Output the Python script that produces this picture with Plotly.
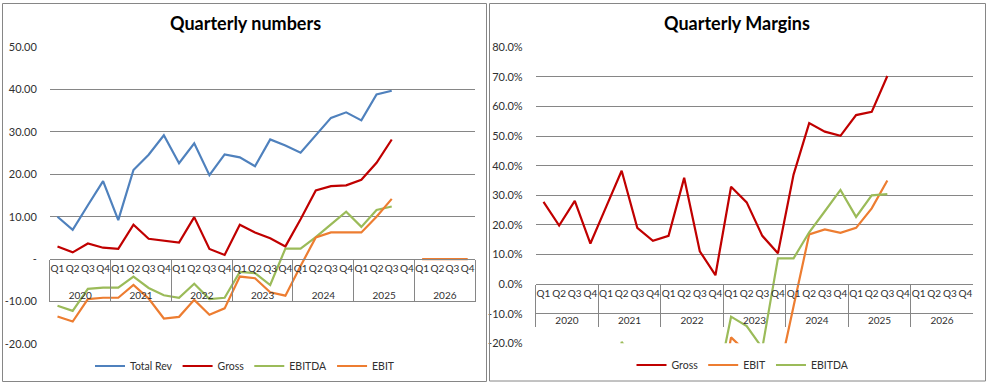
import plotly.graph_objects as go

# ---------------- data ----------------
years = [str(y) for y in range(2020, 2027) for _ in range(4)]
quarters = ["Q1", "Q2", "Q3", "Q4"] * 7

total_rev = [10.0, 6.9, 12.7, 18.4, 9.2, 21.0, 24.6, 29.2,
             22.6, 27.3, 19.8, 24.7, 24.0, 21.9, 28.2, 26.8,
             25.1, 29.1, 33.3, 34.6, 32.7, 38.8, 39.7, None,
             None, None, None, None]
gross = [3.0, 1.6, 3.7, 2.7, 2.4, 8.1, 4.8, 4.3,
         3.9, 9.9, 2.4, 1.0, 8.1, 6.3, 4.9, 3.0,
         9.4, 16.2, 17.2, 17.4, 18.7, 22.7, 28.2, None,
         None, None, None, None]
ebitda = [-11.0, -12.2, -7.0, -6.7, -6.7, -4.1, -6.8, -8.5,
          -9.1, -5.8, -9.4, -9.1, -3.0, -3.3, -6.1, 2.5,
          2.5, 5.2, 8.2, 11.2, 7.6, 11.6, 12.4, None,
          None, None, None, None]
ebit = [-13.5, -14.7, -9.4, -9.1, -9.1, -6.1, -9.3, -14.0,
        -13.6, -9.6, -13.1, -11.6, -4.1, -4.5, -7.8, -8.6,
        -1.6, 5.1, 6.3, 6.3, 6.3, 10.0, 14.2, None,
        0.0, 0.0, 0.0, 0.0]

# margins in percent
gross_m = [27.8, 19.8, 28.1, 13.7, 26.0, 38.3, 19.0, 14.6,
           16.3, 35.9, 11.1, 3.0, 32.9, 27.6, 16.3, 10.4,
           37.0, 54.4, 51.5, 50.1, 57.1, 58.2, 70.3, None,
           None, None, None, None]
ebit_m = [-135, -213, -74, -49, -99, -29, -38, -48,
          -60, -35, -66, -47, -18.0, -23.0, -27.7, -32.0,
          -7.5, 16.8, 18.5, 17.3, 19.0, 25.6, 35.0, None,
          None, None, None, None]
ebitda_m = [-110, -177, -56, -36, -73, -19.5, -27.6, -29,
            -40, -21.2, -47, -37, -11.0, -14.2, -21.6, 8.7,
            8.7, 17.5, 24.6, 31.8, 22.7, 30.0, 30.4, None,
            None, None, None, None]

left_ticks = [-20, -10, 0, 10, 20, 30, 40, 50]
left_ticktext = ["-20.00", "-10.00", "-", "10.00", "20.00", "30.00", "40.00", "50.00"]
right_ticks = [-20, -10, 0, 10, 20, 30, 40, 50, 60, 70, 80]
right_ticktext = ["-20.0%", "-10.0%", "0.0%", "10.0%", "20.0%", "30.0%",
                  "40.0%", "50.0%", "60.0%", "70.0%", "80.0%"]

# ---------------- style ----------------
W, H = 987, 383
BLUE = "#4F81BD"
RED = "#C00000"
GREEN = "#9BBB59"
ORANGE = "#ED7D31"
GRID = "#868686"
TXT = "#303030"
FONT = "Lato"

def px_x(a, b):
    return [a / W, b / W]

def px_y(top, bottom):
    return [1 - bottom / H, 1 - top / H]

L_DOM_X = px_x(49.9, 475.3)
L_DOM_Y = px_y(47.0, 344.0)
R_DOM_X = px_x(535.7, 973.3)
R_DOM_Y = px_y(47.3, 343.3)
L_RANGE = [-20, 50]
R_RANGE = [-20, 80]

def zero_pos(dom, rng):
    return dom[0] + (0 - rng[0]) / (rng[1] - rng[0]) * (dom[1] - dom[0])

# year row sits one line lower, like the Excel two-level axis table
year_labels = ["<br>" + y for y in years]
xcat = [year_labels, quarters]
fig = go.Figure()

lw = 2.2
fig.add_trace(go.Scatter(x=xcat, y=total_rev, name="Total Rev", mode="lines",
                         line=dict(color=BLUE, width=lw), xaxis="x", yaxis="y", legend="legend"))
fig.add_trace(go.Scatter(x=xcat, y=gross, name="Gross", mode="lines",
                         line=dict(color=RED, width=lw), xaxis="x", yaxis="y", legend="legend"))
fig.add_trace(go.Scatter(x=xcat, y=ebitda, name="EBITDA", mode="lines",
                         line=dict(color=GREEN, width=lw), xaxis="x", yaxis="y", legend="legend"))
fig.add_trace(go.Scatter(x=xcat, y=ebit, name="EBIT", mode="lines",
                         line=dict(color=ORANGE, width=lw), xaxis="x", yaxis="y", legend="legend"))

fig.add_trace(go.Scatter(x=xcat, y=gross_m, name="Gross", mode="lines",
                         line=dict(color=RED, width=lw), xaxis="x2", yaxis="y2", legend="legend2"))
fig.add_trace(go.Scatter(x=xcat, y=ebit_m, name="EBIT", mode="lines",
                         line=dict(color=ORANGE, width=lw), xaxis="x2", yaxis="y2", legend="legend2"))
fig.add_trace(go.Scatter(x=xcat, y=ebitda_m, name="EBITDA", mode="lines",
                         line=dict(color=GREEN, width=lw), xaxis="x2", yaxis="y2", legend="legend2"))

tickfont = dict(family=FONT, size=11, color=TXT)
xtickfont = dict(family=FONT, size=10, color=TXT)
legfont = dict(family=FONT, size=10.5, color=TXT)

def xaxis_cfg(dom, pos):
    return dict(type="multicategory", domain=dom, anchor="free", position=pos,
                range=[-0.5, 27.5], showline=True, linecolor=GRID, linewidth=1,
                showgrid=False, ticks="outside", ticklen=3, tickcolor="rgba(0,0,0,0)",
                showdividers=True, dividercolor=GRID,
                dividerwidth=1, tickfont=xtickfont, tickangle=0, fixedrange=True)

def yaxis_cfg(dom, rng, anchor, tv, tt):
    return dict(domain=dom, range=rng, anchor=anchor, tickvals=tv, ticktext=tt,
                showgrid=True, gridcolor=GRID, gridwidth=1, zeroline=False,
                showline=False, ticks="", tickfont=tickfont, ticklabelstandoff=12,
                fixedrange=True)

fig.update_layout(
    width=W, height=H,
    margin=dict(l=0, r=0, t=0, b=0, pad=0, autoexpand=False),
    paper_bgcolor="white", plot_bgcolor="rgba(0,0,0,0)",
    font=dict(family=FONT, color=TXT),
    xaxis=xaxis_cfg(L_DOM_X, zero_pos(L_DOM_Y, L_RANGE)),
    yaxis=yaxis_cfg(L_DOM_Y, L_RANGE, "x", left_ticks, left_ticktext),
    xaxis2=xaxis_cfg(R_DOM_X, zero_pos(R_DOM_Y, R_RANGE)),
    yaxis2=yaxis_cfg(R_DOM_Y, R_RANGE, "x2", right_ticks, right_ticktext),
    legend=dict(orientation="h", x=245 / W, xanchor="center", y=1 - 366 / H,
                yanchor="middle", font=legfont,
                bgcolor="rgba(0,0,0,0)", itemwidth=30),
    legend2=dict(orientation="h", x=743 / W, xanchor="center", y=1 - 365 / H,
                 yanchor="middle", font=legfont,
                 bgcolor="rgba(0,0,0,0)", itemwidth=30),
    showlegend=True,
    annotations=[
        dict(text="<b>Quarterly numbers</b>", x=245 / W, y=1 - 23 / H, xref="paper",
             yref="paper", showarrow=False, font=dict(family=FONT, size=18, color="black"),
             xanchor="center", yanchor="middle"),
        dict(text="<b>Quarterly Margins</b>", x=737 / W, y=1 - 23 / H, xref="paper",
             yref="paper", showarrow=False, font=dict(family=FONT, size=18, color="black"),
             xanchor="center", yanchor="middle"),
    ],
    shapes=[
        dict(type="rect", xref="paper", yref="paper", x0=2.5 / W, x1=486.5 / W,
             y0=1 - 381.5 / H, y1=1 - 3.5 / H, line=dict(color=GRID, width=1)),
        dict(type="rect", xref="paper", yref="paper", x0=489.5 / W, x1=985.5 / W,
             y0=1 - 381 / H, y1=1 - 3.5 / H, line=dict(color=GRID, width=1)),
    ],
)

fig.write_html(
    "out.html",
    config={"displayModeBar": False},
    post_script="document.body.style.margin='0';document.body.style.overflow='hidden';",
)
